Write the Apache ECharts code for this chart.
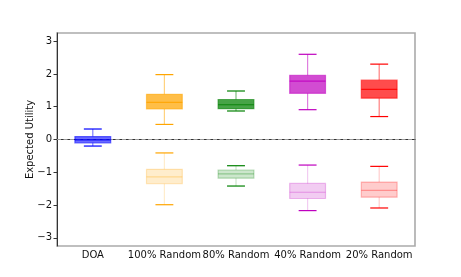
<!DOCTYPE html>
<html>
<head>
<meta charset="utf-8">
<script src="https://cdn.jsdelivr.net/npm/echarts@6/dist/echarts.min.js"></script>
<style>
html,body{margin:0;padding:0;background:#fff;}
#chart{width:461px;height:277px;}
</style>
</head>
<body>
<div id="chart"></div>
<script>
// ---- data ----
var categories = ['DOA', '100% Random', '80% Random', '40% Random', '20% Random'];
// each entry: [lowerWhisker, q1, median, q3, upperWhisker]
var upperBoxes = [
  [-0.20, -0.10, -0.01, 0.09, 0.32],
  [0.46, 0.93, 1.13, 1.38, 1.98],
  [0.87, 0.94, 1.06, 1.22, 1.48],
  [0.91, 1.41, 1.78, 1.96, 2.60],
  [0.70, 1.26, 1.53, 1.81, 2.30]
];
var lowerBoxes = [
  null,
  [-1.99, -1.35, -1.14, -0.91, -0.41],
  [-1.42, -1.18, -1.05, -0.93, -0.80],
  [-2.17, -1.80, -1.61, -1.34, -0.78],
  [-2.09, -1.76, -1.55, -1.30, -0.82]
];
var yTicks = [-3, -2, -1, 0, 1, 2, 3];
var zeroLineY = 0;
var colors = ['#0000ff', '#ffa500', '#008000', '#bf00bf', '#ff0000'];
var upperAlpha = [0.58, 0.72, 0.72, 0.7, 0.7];

function rgba(hex, a) {
  var r = parseInt(hex.slice(1, 3), 16), g = parseInt(hex.slice(3, 5), 16), b = parseInt(hex.slice(5, 7), 16);
  return 'rgba(' + r + ',' + g + ',' + b + ',' + a + ')';
}

function makeData(boxes) {
  var out = [];
  boxes.forEach(function (b, i) {
    if (b) out.push([i].concat(b));
  });
  return out;
}

function makeRender(fillA, edgeA, medA, whiskA) {
  return function (params, api) {
    var idx = api.value(0);
    var c = colors[idx];
    var fa = fillA === null ? upperAlpha[idx] : fillA;
    var bw = api.size([1, 0])[0] * 0.5;
    var cw = bw * 0.5;
    var lo = api.coord([idx, api.value(1)]);
    var q1 = api.coord([idx, api.value(2)]);
    var md = api.coord([idx, api.value(3)]);
    var q3 = api.coord([idx, api.value(4)]);
    var hi = api.coord([idx, api.value(5)]);
    var x = lo[0];
    return {
      type: 'group',
      children: [
        { type: 'line', shape: { x1: x, y1: hi[1], x2: x, y2: q3[1] }, style: { stroke: rgba(c, whiskA), lineWidth: 1.2 } },
        { type: 'line', shape: { x1: x, y1: q1[1], x2: x, y2: lo[1] }, style: { stroke: rgba(c, whiskA), lineWidth: 1.2 } },
        { type: 'line', shape: { x1: x - cw / 2, y1: hi[1], x2: x + cw / 2, y2: hi[1] }, style: { stroke: c, lineWidth: 1.2 } },
        { type: 'line', shape: { x1: x - cw / 2, y1: lo[1], x2: x + cw / 2, y2: lo[1] }, style: { stroke: c, lineWidth: 1.2 } },
        { type: 'rect', shape: { x: x - bw / 2, y: q3[1], width: bw, height: q1[1] - q3[1] },
          style: { fill: rgba(c, fa), stroke: rgba(c, edgeA), lineWidth: 1.2 } },
        { type: 'line', shape: { x1: x - bw / 2, y1: md[1], x2: x + bw / 2, y2: md[1] }, style: { stroke: rgba(c, medA), lineWidth: 1.2 } }
      ]
    };
  };
}

var chart = echarts.init(document.getElementById('chart'), null, { renderer: 'canvas' });
var font = 'DejaVu Sans';
chart.setOption({
  animation: false,
  backgroundColor: '#fff',
  grid: { left: 57, right: 46, top: 33, bottom: 31, show: true, borderColor: '#aaaaaa', borderWidth: 1.6, backgroundColor: 'transparent' },
  xAxis: [{
    type: 'category',
    data: categories,
    boundaryGap: true,
    axisLine: { lineStyle: { color: '#333', width: 1 } },
    axisTick: { alignWithLabel: true, length: 3.5, lineStyle: { color: '#333' } },
    axisLabel: { color: '#111', fontFamily: font, fontSize: 10, margin: 4, interval: 0 },
    splitLine: { show: false }
  }, {
    type: 'value', min: 0, max: 1, show: false
  }],
  yAxis: {
    type: 'value',
    min: -3.25,
    max: 3.25,
    name: 'Expected Utility',
    nameLocation: 'middle',
    nameGap: 22,
    nameMoveOverlap: false,
    nameRotate: 90,
    nameTextStyle: { color: '#111', fontFamily: font, fontSize: 10 },
    axisLine: { show: true, lineStyle: { color: '#333', width: 1 } },
    axisTick: { show: true, length: 3.5, customValues: yTicks, lineStyle: { color: '#333' } },
    axisLabel: { color: '#111', fontFamily: font, fontSize: 10, margin: 5, customValues: yTicks,
      formatter: function (v) { return String(v).replace('-', '\u2212'); } },
    splitLine: { show: false }
  },
  series: [
    {
      type: 'line',
      xAxisIndex: 1,
      data: [[0, zeroLineY], [1, zeroLineY]],
      symbol: 'none',
      silent: true,
      z: 1,
      lineStyle: { color: '#9a9a9a', type: [4, 2.5], width: 1.2 }
    },
    {
      type: 'custom',
      name: 'upper',
      renderItem: makeRender(null, 0.55, 0.85, 0.5),
      encode: { x: 0, y: [1, 2, 3, 4, 5] },
      data: makeData(upperBoxes),
      z: 3
    },
    {
      type: 'custom',
      name: 'lower',
      renderItem: makeRender(0.2, 0.25, 0.3, 0.2),
      encode: { x: 0, y: [1, 2, 3, 4, 5] },
      data: makeData(lowerBoxes),
      z: 3
    }
  ]
});
</script>
</body>
</html>
